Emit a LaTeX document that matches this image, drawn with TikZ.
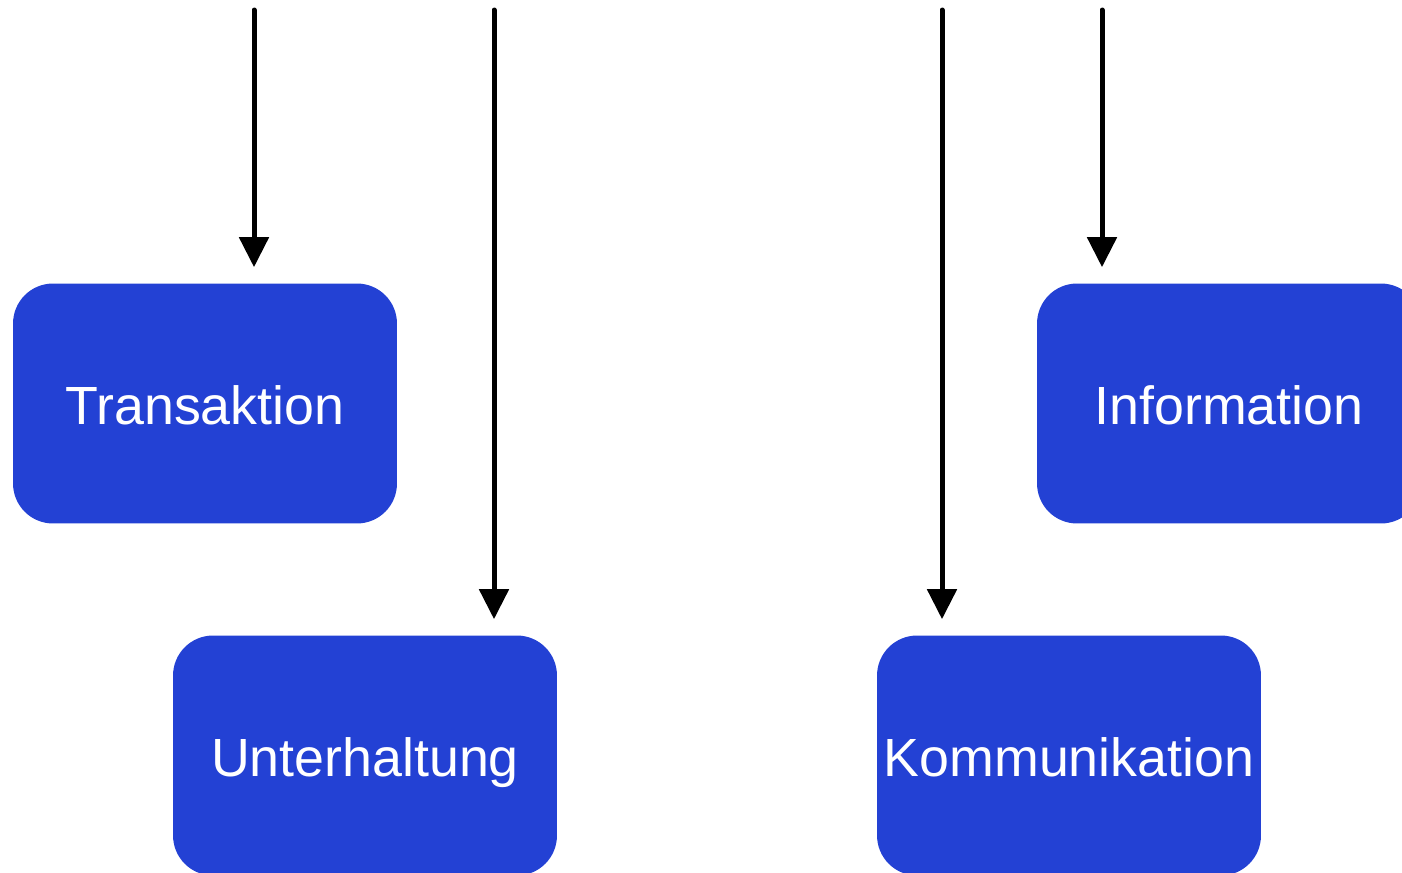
\documentclass[tikz,border=0pt]{standalone}
\usepackage{fontspec}
\setmainfont{Liberation Sans}
\usetikzlibrary{arrows.meta}
\definecolor{boxblue}{RGB}{35,65,212}
\begin{document}
\begin{tikzpicture}[x=.02cm,y=-.02cm,
  kasten/.style={fill=boxblue,text=white,rounded corners=.8cm,minimum width=7.68cm,minimum height=4.8cm,inner sep=0pt,text height=.82cm,text depth=0pt,font=\fontsize{30.6}{36}\selectfont},
  pfeil/.style={line width=.1cm,line cap=round,-{Triangle[width=.58cm,length=.6cm]},shorten >=.32cm}]
\clip(0,0)rectangle(1402,872);
\node[kasten](trans)at(205,403.5){Transaktion};
\node[kasten](info)at(1229,403.5){Information};
\node[kasten](unter)at(365,755.5){Unterhaltung};
\node[kasten](komm)at(1069,755.5){Kommunikation};
\coordinate(a1)at(254,10);
\coordinate(a2)at(494,10);
\coordinate(a3)at(942,10);
\coordinate(a4)at(1102,10);
\draw[pfeil](a1)--(a1|-trans.north);
\draw[pfeil](a2)--(a2|-unter.north);
\draw[pfeil](a3)--(a3|-komm.north);
\draw[pfeil](a4)--(a4|-info.north);
\end{tikzpicture}
\end{document}
